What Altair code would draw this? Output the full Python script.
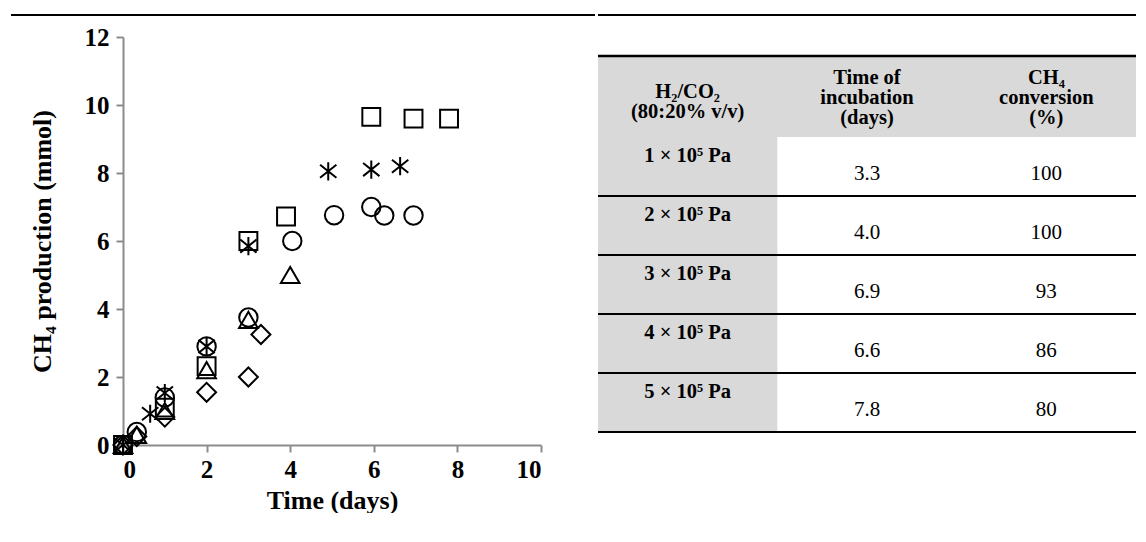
import altair as alt
import pandas as pd

FONT = "Liberation Serif"

# ---------------- scatter data ----------------
series_names = ["1 × 10⁵ Pa", "2 × 10⁵ Pa", "3 × 10⁵ Pa", "4 × 10⁵ Pa", "5 × 10⁵ Pa"]

p1_days = [0, 0.33, 1.0, 2.0, 3.0, 3.3]
p1_ch4 = [0, 0.25, 0.82, 1.55, 2.0, 3.25]

p2_days = [0, 0.33, 1.0, 2.0, 3.0, 4.0]
p2_ch4 = [0, 0.3, 1.0, 2.2, 3.68, 5.0]

p3_days = [0, 0.33, 1.0, 2.0, 3.0, 4.05, 5.05, 5.94, 6.25, 6.95]
p3_ch4 = [0, 0.38, 1.4, 2.9, 3.75, 6.0, 6.76, 7.0, 6.75, 6.75]

p4_days = [0, 0.65, 1.0, 2.0, 3.0, 4.91, 5.94, 6.63]
p4_ch4 = [0, 0.92, 1.53, 2.9, 5.85, 8.05, 8.1, 8.2]

p5_days = [0, 1.0, 2.0, 3.0, 3.9, 5.94, 6.95, 7.8]
p5_ch4 = [0, 1.1, 2.32, 6.0, 6.72, 9.65, 9.6, 9.6]

x_ticks = [0, 2, 4, 6, 8, 10]
y_ticks = [0, 2, 4, 6, 8, 10, 12]

# ---------------- table data ----------------
header_col1 = ["H₂/CO₂", "(80:20% v/v)"]
header_col2 = ["Time of", "incubation", "(days)"]
header_col3 = ["CH₄", "conversion", "(%)"]
pressures = ["1 × 10⁵ Pa", "2 × 10⁵ Pa", "3 × 10⁵ Pa", "4 × 10⁵ Pa", "5 × 10⁵ Pa"]
incubation_days = ["3.3", "4.0", "6.9", "6.6", "7.8"]
conversion_pct = ["100", "100", "93", "86", "80"]

# ---------------- build scatter ----------------
rows = []
for name, ds, vs in zip(series_names,
                        [p1_days, p2_days, p3_days, p4_days, p5_days],
                        [p1_ch4, p2_ch4, p3_ch4, p4_ch4, p5_ch4]):
    for d, v in zip(ds, vs):
        rows.append({"series": name, "days": d, "ch4": v})
df = pd.DataFrame(rows)

asterisk = "M0,-1L0,1M-0.9,-0.72L0.9,0.72M-0.9,0.72L0.9,-0.72"
shapes = ["diamond", "triangle-up", "circle", asterisk, "square"]
sizes = [360, 320, 289, 420, 240]

W, H = 418, 408

axis_common = dict(
    grid=False, domainColor="#8c8c8c", tickColor="#8c8c8c", domainWidth=2,
    tickWidth=2, tickSize=7, labelFont=FONT, labelFontWeight="bold",
    labelFontSize=25, labelColor="black", titleFont=FONT, titleFontWeight="bold",
    titleFontSize=26, titleColor="black",
)

points = alt.Chart(df).mark_point(filled=False, color="black", strokeWidth=2, opacity=1).encode(
    x=alt.X("days:Q", scale=alt.Scale(domain=[0, 10], nice=False),
            axis=alt.Axis(values=x_ticks, title="Time (days)", labelPadding=5, titlePadding=5, **axis_common)),
    y=alt.Y("ch4:Q", scale=alt.Scale(domain=[0, 12], nice=False),
            axis=alt.Axis(values=y_ticks, title="CH₄ production (mmol)", labelPadding=7, titlePadding=29, **axis_common)),
    shape=alt.Shape("series:N", scale=alt.Scale(domain=series_names, range=shapes), legend=None),
    size=alt.Size("series:N", scale=alt.Scale(domain=series_names, range=sizes), legend=None),
)

top_rule_left = alt.Chart(pd.DataFrame({"a": [0]})).mark_rule(color="black", strokeWidth=2).encode(
    x=alt.value(-112), x2=alt.value(472), y=alt.value(-22)
)

scatter = alt.layer(points, top_rule_left).properties(width=W, height=H)

# ---------------- build table ----------------
TW, TH = 538, H
PX_PER_ROW = 59.0
header_h = 81 / PX_PER_ROW
total = header_h + len(pressures)
top_gap = 19 / PX_PER_ROW
bottom_gap = TH / PX_PER_ROW - top_gap - total
line_h = 20

xs = alt.Scale(domain=[0, 3], nice=False, zero=False)
ys = alt.Scale(domain=[-top_gap, total + bottom_gap], nice=False, zero=False, reverse=True)

rect_df = pd.DataFrame({
    "x": [0, 0], "x2": [3, 1],
    "y": [0, header_h], "y2": [header_h, total],
})
rects = alt.Chart(rect_df).mark_rect(color="#d9d9d9").encode(
    x=alt.X("x:Q", scale=xs, axis=None), x2="x2:Q",
    y=alt.Y("y:Q", scale=ys, axis=None), y2="y2:Q",
)

rule_y = [0] + [header_h + i for i in range(1, len(pressures))] + [total]
rule_w = [2.6] + [2.2] * (len(pressures) - 1) + [2.2]
rules_df = pd.DataFrame({"y": rule_y, "w": rule_w, "x": 0, "x2": 3})
rules = alt.Chart(rules_df).mark_rule(color="black").encode(
    x=alt.X("x:Q", scale=xs, axis=None), x2="x2:Q",
    y=alt.Y("y:Q", scale=ys, axis=None),
    strokeWidth=alt.StrokeWidth("w:Q", scale=None),
)

heads = [header_col1, header_col2, header_col3]
head_shift = [5 / PX_PER_ROW, 1 / PX_PER_ROW, 1 / PX_PER_ROW]
head_df = pd.DataFrame({
    "x": [0.5, 1.5, 2.5],
    "y": [header_h / 2 - (len(h) - 1) * line_h / 2 / PX_PER_ROW + s for h, s in zip(heads, head_shift)],
    "t": ["\n".join(h) for h in heads],
})
head_text = alt.Chart(head_df).mark_text(
    font=FONT, fontSize=20.5, fontWeight="bold", color="black", lineBreak="\n",
    lineHeight=line_h, align="center", baseline="middle"
).encode(
    x=alt.X("x:Q", scale=xs, axis=None), y=alt.Y("y:Q", scale=ys, axis=None), text="t:N"
)

lab_df = pd.DataFrame({
    "x": [0.5] * len(pressures),
    "y": [header_h + i + 0.32 for i in range(len(pressures))],
    "t": pressures,
})
lab_text = alt.Chart(lab_df).mark_text(
    font=FONT, fontSize=20.5, fontWeight="bold", color="black", align="center", baseline="middle"
).encode(
    x=alt.X("x:Q", scale=xs, axis=None), y=alt.Y("y:Q", scale=ys, axis=None), text="t:N"
)

val_rows = []
for i, (d, c) in enumerate(zip(incubation_days, conversion_pct)):
    val_rows.append({"x": 1.5, "y": header_h + i + 0.63, "t": d})
    val_rows.append({"x": 2.5, "y": header_h + i + 0.63, "t": c})
val_text = alt.Chart(pd.DataFrame(val_rows)).mark_text(
    font=FONT, fontSize=21, color="black", align="center", baseline="middle"
).encode(
    x=alt.X("x:Q", scale=xs, axis=None), y=alt.Y("y:Q", scale=ys, axis=None), text="t:N"
)

top_rule_right = alt.Chart(pd.DataFrame({"a": [0]})).mark_rule(color="black", strokeWidth=2).encode(
    x=alt.value(0), x2=alt.value(TW), y=alt.value(-22)
)

table = alt.layer(rects, rules, head_text, lab_text, val_text, top_rule_right).properties(width=TW, height=TH)

chart = alt.hconcat(scatter, table, spacing=0).properties(
    padding={"left": 2, "top": 6, "right": 0, "bottom": 0}
).configure_view(strokeWidth=0)

chart.save("out.html", embed_options={"renderer": "svg", "actions": False})
